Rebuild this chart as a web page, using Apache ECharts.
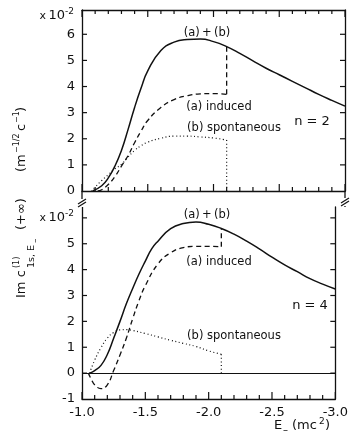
<!DOCTYPE html>
<html>
<head>
<meta charset="utf-8">
<script src="https://cdn.jsdelivr.net/npm/echarts@6/dist/echarts.min.js"></script>
<style>
  html, body { margin: 0; padding: 0; background: #fff; }
  #c { width: 351px; height: 436px; }
</style>
</head>
<body>
<div id="c"></div>
<script>
// Energy E_ in units of mc^2; amplitudes Im c in units of 1e-2 (m^-1/2 c^-1).
const cutoffE = -2.1;
const xTickStep = 0.5;

// Tick positions
const xMajorTicks = [-1.0, -1.5, -2.0, -2.5, -3.0];
const xMinorTicks = [-1.1, -1.2, -1.3, -1.4, -1.6, -1.7, -1.8, -1.9, -2.1, -2.2, -2.3, -2.4, -2.6, -2.7, -2.8, -2.9];
const yTicksN2 = [1, 2, 3, 4, 5, 6];
const yTicksN4 = [0, 1, 2, 3, 4, 5, 6];
const yRangeN2 = [0, 6.93];
const yRangeN4 = [-1, 6.42];

// n = 2
const totalE2 = [-1.08, -1.15, -1.2, -1.25, -1.3, -1.35, -1.4, -1.45, -1.5, -1.6, -1.7, -1.8, -1.9, -2.0, -2.1, -2.2, -2.3, -2.4, -2.5, -2.6, -2.7, -2.8, -2.9, -3.0];
const total2  = [0, 0.2, 0.5, 0.95, 1.55, 2.35, 3.2, 3.95, 4.6, 5.38, 5.7, 5.8, 5.82, 5.72, 5.53, 5.27, 4.98, 4.7, 4.45, 4.2, 3.95, 3.7, 3.47, 3.25];
const inducedE2 = [-1.12, -1.15, -1.2, -1.25, -1.3, -1.35, -1.4, -1.45, -1.5, -1.6, -1.7, -1.8, -1.9, -2.0, -2.1];
const induced2  = [0, 0.05, 0.25, 0.55, 0.95, 1.35, 1.85, 2.3, 2.7, 3.2, 3.5, 3.65, 3.72, 3.73, 3.7];
const spontE2 = [-1.07, -1.1, -1.15, -1.2, -1.25, -1.3, -1.35, -1.4, -1.45, -1.5, -1.6, -1.7, -1.8, -1.9, -2.0, -2.1];
const spont2  = [0, 0.15, 0.4, 0.62, 0.85, 1.02, 1.3, 1.55, 1.74, 1.87, 2.02, 2.1, 2.1, 2.07, 2.03, 1.95];

// n = 4
const totalE4 = [-1.06, -1.1, -1.15, -1.2, -1.25, -1.3, -1.35, -1.4, -1.45, -1.5, -1.55, -1.6, -1.7, -1.8, -1.9, -2.0, -2.1, -2.2, -2.3, -2.4, -2.5, -2.6, -2.7, -2.8, -2.9, -3.0];
const total4  = [0, 0.1, 0.3, 0.72, 1.35, 2.0, 2.68, 3.27, 3.83, 4.33, 4.8, 5.1, 5.58, 5.78, 5.84, 5.75, 5.59, 5.37, 5.1, 4.8, 4.48, 4.18, 3.92, 3.65, 3.44, 3.25];
const inducedE4 = [-1.05, -1.08, -1.1, -1.15, -1.2, -1.25, -1.3, -1.35, -1.4, -1.45, -1.5, -1.6, -1.7, -1.8, -1.9, -2.0, -2.1];
const induced4  = [0, -0.3, -0.45, -0.6, -0.45, 0.1, 0.7, 1.35, 2.1, 2.8, 3.38, 4.22, 4.65, 4.85, 4.9, 4.9, 4.88];
const spontE4 = [-1.06, -1.1, -1.15, -1.2, -1.25, -1.3, -1.35, -1.4, -1.5, -1.6, -1.7, -1.8, -1.9, -2.0, -2.1];
const spont4  = [0, 0.5, 0.98, 1.35, 1.57, 1.67, 1.68, 1.65, 1.53, 1.4, 1.27, 1.15, 1.03, 0.86, 0.73];

const INK = '#111';
const FONT = 'DejaVu Sans';

const pairs = (xs, ys) => xs.map((x, i) => [x, ys[i]]);
const valueAt = (xs, ys, x) => ys[xs.indexOf(x)];

const chart = echarts.init(document.getElementById('c'));

const frameLine = () => ({ show: true, onZero: false, lineStyle: { color: INK, width: 1.3 } });

function xAxis(gridIndex, position, labels) {
  return {
    type: 'value', gridIndex, position, min: -3, max: -1, interval: xTickStep, inverse: true,
    axisLine: frameLine(), axisTick: { show: false }, minorTick: { show: false },
    splitLine: { show: false }, minorSplitLine: { show: false },
    axisLabel: labels ? {
      show: true, color: INK, fontFamily: FONT, fontSize: 13, margin: 7,
      formatter: v => v.toFixed(1)
    } : { show: false }
  };
}

function yAxis(gridIndex, position, range, hideAbove) {
  const left = position === 'left';
  return {
    type: 'value', gridIndex, position, min: range[0], max: range[1], interval: 1,
    axisLine: frameLine(), axisTick: { show: false },
    splitLine: { show: false },
    axisLabel: left ? {
      show: true, color: INK, fontFamily: FONT, fontSize: 13, margin: 7,
      formatter: v => (Number.isInteger(v) && v <= hideAbove) ? String(v) : ''
    } : { show: false }
  };
}

function curve(data, xi, yi, type, width, smooth) {
  return {
    type: 'line', xAxisIndex: xi, yAxisIndex: yi, data, showSymbol: false, smooth,
    silent: true, animation: false,
    lineStyle: { color: INK, width, type }
  };
}

const dashed = [5, 3.5];
const dotted = [1, 2.6];

const series = [
  // n = 2 panel
  curve(pairs(totalE2, total2), 0, 0, 'solid', 1.5, 0.5),
  curve(pairs(inducedE2, induced2), 0, 0, dashed, 1.3, 0.5),
  curve([[cutoffE, valueAt(inducedE2, induced2, cutoffE)], [cutoffE, valueAt(totalE2, total2, cutoffE)]], 0, 0, dashed, 1.3, false),
  curve(pairs(spontE2, spont2), 0, 0, dotted, 1.2, 0.5),
  curve([[cutoffE, valueAt(spontE2, spont2, cutoffE)], [cutoffE, 0]], 0, 0, dotted, 1.2, false),
  // n = 4 panel
  Object.assign(curve(pairs(totalE4, total4), 2, 2, 'solid', 1.5, 0.5), {
    markLine: {
      silent: true, symbol: 'none', animation: false,
      label: { show: false },
      lineStyle: { color: INK, type: 'solid', width: 1.2 },
      data: [{ yAxis: 0 }]
    }
  }),
  curve(pairs(inducedE4, induced4), 2, 2, dashed, 1.3, 0.5),
  curve([[cutoffE, valueAt(inducedE4, induced4, cutoffE)], [cutoffE, valueAt(totalE4, total4, cutoffE)]], 2, 2, dashed, 1.3, false),
  curve(pairs(spontE4, spont4), 2, 2, dotted, 1.2, 0.5),
  curve([[cutoffE, valueAt(spontE4, spont4, cutoffE)], [cutoffE, 0]], 2, 2, dotted, 1.2, false)
];

function label(text, x, y, size, align) {
  return {
    type: 'text', x, y, silent: true,
    style: { text, fill: INK, font: `${size}px "${FONT}"`, align: align || 'center', verticalAlign: 'middle' }
  };
}

const seg = (x1, y1, x2, y2, w) => ({
  type: 'line', silent: true, z: 20, shape: { x1, y1, x2, y2 }, style: { stroke: INK, lineWidth: w || 1.2 }
});

function brk(x, y) {
  // axis break: white gap with two slanted strokes
  return [
    { type: 'rect', silent: true, shape: { x: x - 4, y: y - 4, width: 8, height: 8 }, style: { fill: '#fff' }, z: 50 },
    Object.assign(seg(x - 4, y + 1, x + 4, y - 4), { z: 51 }),
    Object.assign(seg(x - 4, y + 4, x + 4, y - 1), { z: 51 })
  ];
}

function scaleMark(x, y) {
  return {
    type: 'group', x, y, silent: true,
    children: [
      { type: 'text', x: -29, y: 0, style: { text: 'x', fill: INK, font: `11px "${FONT}"`, align: 'right', verticalAlign: 'middle' } },
      { type: 'text', x: -10, y: 0, style: { text: '10', fill: INK, font: `13px "${FONT}"`, align: 'right', verticalAlign: 'middle' } },
      { type: 'text', x: -10, y: -4, style: { text: '-2', fill: INK, font: `9px "${FONT}"`, align: 'left', verticalAlign: 'middle' } }
    ]
  };
}

const t = (text, x, y, size) => ({
  type: 'text', x, y, style: { text, fill: INK, font: `${size}px "${FONT}"`, align: 'left', verticalAlign: 'bottom' }
});

const yTitle = {
  type: 'group', x: 28, y: 298, rotation: Math.PI / 2, silent: true,
  children: [
    t('Im c', 0, 0, 13),
    t('(1)', 30, -7, 8),
    t('1s, E', 30, 9, 9.5),
    t('\u2013', 55, 12, 9),
    t('(+\u221E)', 68, 0, 13),
    t('(m', 126, 0, 13),
    t('\u22121/2', 145, -7, 8),
    t('c', 167, 0, 13),
    t('\u22121', 175, -7, 8),
    t(')', 186, 0, 13)
  ]
};

const xTitle = {
  type: 'group', x: 274, y: 432, silent: true,
  children: [
    t('E', 0, 0, 13),
    t('\u2013', 9, 3, 10),
    t('(mc', 18, 0, 13),
    t('2', 45, -6, 9),
    t(')', 51, 0, 13)
  ]
};

const decorations = [
  // vertical axes continue past the n = 2 baseline, then break
  seg(82, 191, 82, 207, 1.3),
  seg(345, 191, 345, 207, 1.3),
  ...brk(82, 203),
  ...brk(345, 202),
  scaleMark(75, 16),
  scaleMark(75, 218),
  label('(a)\u2009+\u2009(b)', 207, 33, 11.5),
  label('(a) induced', 219, 107, 11.5),
  label('(b) spontaneous', 234, 128, 11.5),
  label('n = 2', 312, 122, 13),
  label('(a)\u2009+\u2009(b)', 207, 215, 11.5),
  label('(a) induced', 219, 262, 11.5),
  label('(b) spontaneous', 234, 336, 11.5),
  label('n = 4', 310, 306, 13),
  yTitle,
  xTitle
];

chart.setOption({
  animation: false,
  backgroundColor: '#fff',
  grid: [
    { left: 82, right: 6, top: 10, height: 181 },
    { left: 82, right: 6, top: 207, height: 192 }
  ],
  xAxis: [xAxis(0, 'bottom', false), xAxis(0, 'top', false), xAxis(1, 'bottom', true)],
  yAxis: [
    yAxis(0, 'left', yRangeN2, 6),
    yAxis(0, 'right', yRangeN2, 6),
    yAxis(1, 'left', yRangeN4, 5),
    yAxis(1, 'right', yRangeN4, 5)
  ],
  series,
  graphic: decorations
});

// Inward tick marks, positioned through each panel's axes.
function panelTicks(xi, yi, yRange, yTicks, withTop) {
  const px = v => chart.convertToPixel({ xAxisIndex: xi }, v);
  const py = v => chart.convertToPixel({ yAxisIndex: yi }, v);
  const left = px(-1), right = px(-3), bottom = py(yRange[0]), top = py(yRange[1]);
  const out = [];
  const xt = (v, len) => {
    out.push(seg(px(v), bottom, px(v), bottom - len));
    if (withTop) out.push(seg(px(v), top, px(v), top + len));
  };
  xMajorTicks.forEach(v => xt(v, 7));
  xMinorTicks.forEach(v => xt(v, 4));
  yTicks.forEach(v => {
    out.push(seg(left, py(v), left + 5, py(v)));
    out.push(seg(right, py(v), right - 5, py(v)));
  });
  return out;
}

chart.setOption({
  graphic: decorations.concat(
    panelTicks(0, 0, yRangeN2, yTicksN2, true),
    panelTicks(2, 2, yRangeN4, yTicksN4, false)
  )
}, { replaceMerge: ['graphic'] });
</script>
</body>
</html>
